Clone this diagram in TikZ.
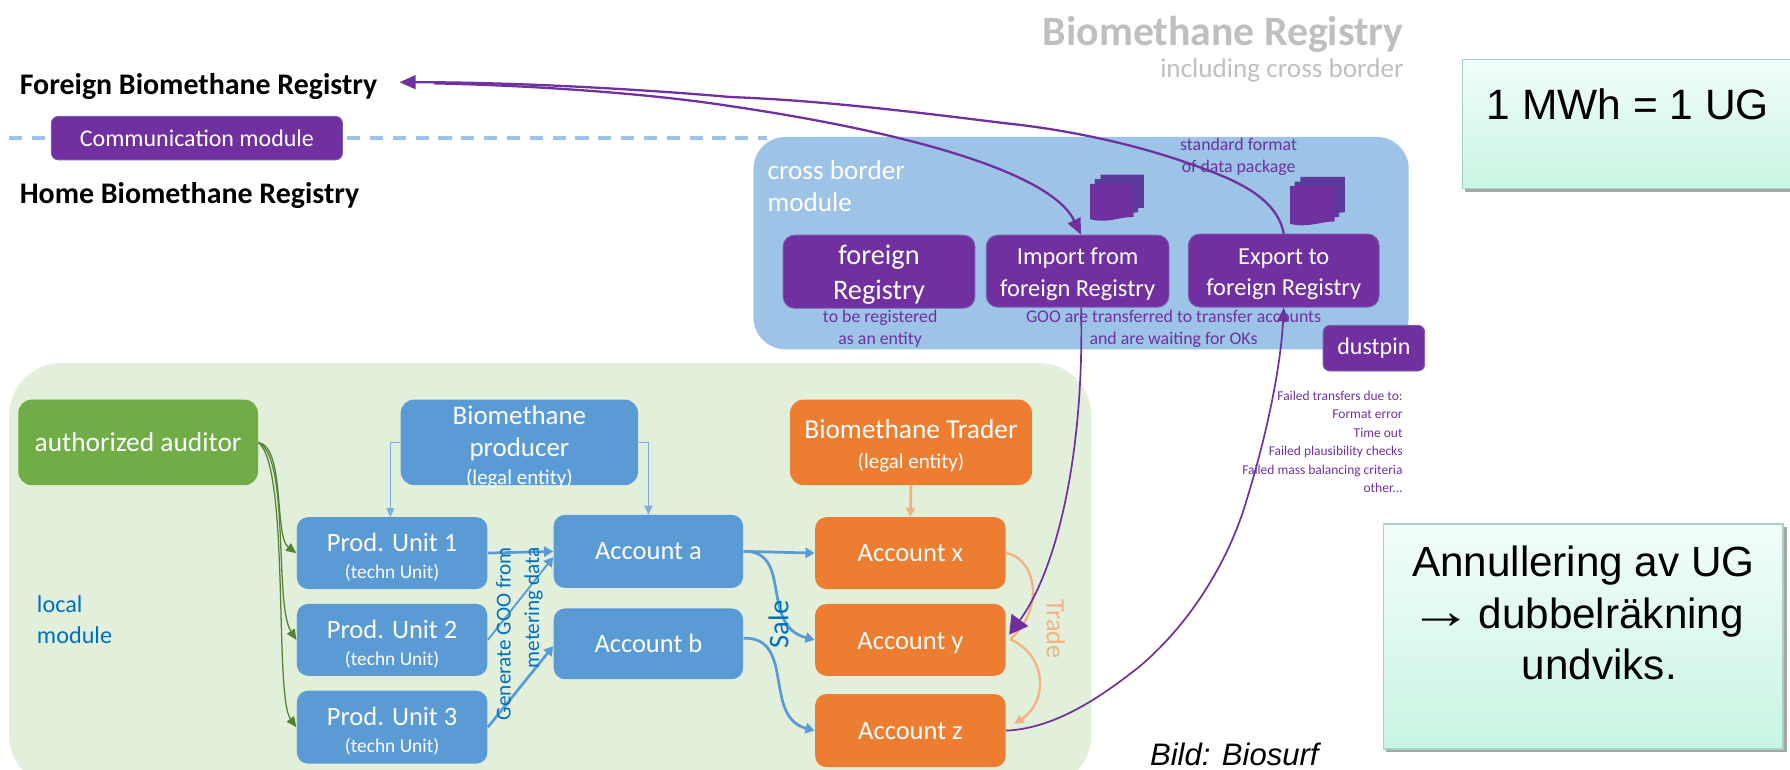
\documentclass[tikz,border=0pt]{standalone}
\usepackage{fontspec}
\setmainfont{Carlito}
\newfontfamily\arialf{Liberation Sans}
\usetikzlibrary{arrows.meta,calc}
\definecolor{purp}{HTML}{7030A0}
\definecolor{docblue}{HTML}{5B3A9B}
\definecolor{bluebox}{HTML}{5B9BD5}
\definecolor{orangebox}{HTML}{ED7D31}
\definecolor{greenbox}{HTML}{70AD47}
\definecolor{lightblue}{HTML}{9DC3E6}
\definecolor{lightgreen}{HTML}{E2EFDA}
\definecolor{softorange}{HTML}{F4B183}
\definecolor{txtblue}{HTML}{0070C0}
\definecolor{darkgreen}{HTML}{548235}
\definecolor{titlegray}{HTML}{BFBFBF}
\definecolor{notetop}{HTML}{F2FDF9}
\definecolor{notebot}{HTML}{C9F5E3}
\definecolor{noteedge}{HTML}{A3D3C2}
\newcommand{\fs}[1]{\fontsize{#1}{#1}\selectfont}
\newcommand{\dwn}[1]{\rule{0pt}{#1pt}}
\newcommand{\bx}[7]{%
  \pgfmathsetmacro\bxcx{(#2+#4)/2}%
  \pgfmathsetmacro\bxcy{(#3+#5)/2}%
  \pgfmathsetmacro\bxw{(#4-#2)*0.5}%
  \pgfmathsetmacro\bxh{(#5-#3)*0.5}%
  \node[#6,minimum width=\bxw pt,minimum height=\bxh pt] (#1) at (\bxcx,\bxcy) {#7};}
\tikzset{
  boxbase/.style={rounded corners=5pt,inner sep=0pt,text=white,align=center,font=\fs{11}},
  purplebox/.style={boxbase,fill=purp,draw=purp!70!lightblue,line width=.4pt},
  bluefill/.style={boxbase,fill=bluebox},
  orangefill/.style={boxbase,fill=orangebox},
  greenfill/.style={boxbase,fill=greenbox},
  smalltxt/.style={text=purp,align=center,font=\fs{7.8},inner sep=0pt},
  notebox/.style={top color=notetop,bottom color=notebot,draw=noteedge,line width=.7pt,align=center,inner sep=0pt},
  purpline/.style={draw=purp,line width=.75pt},
  purptip/.style={-{Triangle[length=7pt,width=6pt]}},
  blueline/.style={draw=bluebox,line width=1.2pt,-{Triangle[length=4pt,width=4.5pt]}},
  thinblue/.style={draw=bluebox!80!white,line width=.6pt,-{Triangle[length=4pt,width=3.5pt]}},
  softline/.style={draw=softorange,line width=1pt},
  greenline/.style={draw=darkgreen,line width=.55pt,-{Triangle[length=4.5pt,width=4pt]}},
  docback/.style={fill=docblue,draw=none},
  docfront/.style={fill=purp,draw=none},
}
\begin{document}
\begin{tikzpicture}[x=0.5pt,y=-0.5pt]
\useasboundingbox (0,0) rectangle (1568,674);
% regions
\fill[lightgreen,rounded corners=23pt] (8,318) rectangle (956,690);
\draw[lightblue,line width=1.7pt,dash pattern=on 5.8pt off 4.2pt] (8,121) -- (45,121);
\draw[lightblue,line width=1.7pt,dash pattern=on 5.8pt off 4.2pt] (304,121) -- (672,121);
\fill[lightblue,rounded corners=14pt] (660,120) rectangle (1234,306);
% titles
\node[anchor=east,text=titlegray,font=\fs{18.3}\bfseries,inner sep=0pt] (title) at (1230,30) {Biomethane Registry};
\node[anchor=east,text=titlegray,font=\fs{11.9},inner sep=0pt] (subtitle) at (1230,62) {including cross border};
\node[anchor=west,font=\fs{13.1}\bfseries,inner sep=0pt] (foreignreg) at (17,76) {Foreign Biomethane Registry};
\node[anchor=west,font=\fs{13.1}\bfseries,inner sep=0pt] (homereg) at (17,171) {Home Biomethane Registry};
\bx{comm}{45}{102}{300}{140}{purplebox,rounded corners=3pt,font=\fs{10.5}}{Communication module}
% cross border module
\node[anchor=north west,text=white,align=left,font=\fs{11.9},inner sep=0pt] (crosslabel) at (672,140) {cross border\\[2.4pt]module};
\bx{foreignbox}{686}{206}{854}{270}{purplebox,font=\fs{12.4}}{\dwn{11}foreign\\[3pt]Registry}
\bx{importbox}{864}{206}{1024}{269}{purplebox,font=\fs{10.7}}{\dwn{10}Import from\\[3pt]foreign Registry}
\bx{exportbox}{1041}{205}{1208}{269}{purplebox,font=\fs{10.7}}{\dwn{10}Export to\\[3pt]foreign Registry}
\bx{dustpin}{1159}{285}{1248}{325}{purplebox,rounded corners=3pt,font=\fs{10.5}}{dustpin}
\node[smalltxt] (fmt) at (1085,137) {standard format\\[1.8pt]of data package};
\node[smalltxt] (entity) at (771,288) {to be registered\\[1.8pt]as an entity};
\node[smalltxt] (goo) at (1028,288) {GOO are transferred to transfer accounts\\[1.8pt]and are waiting for OKs};
\node[anchor=north east,text=purp,align=right,font=\fs{5.9},inner sep=0pt] (failed) at (1229,342) {Failed transfers due to:\\[2.2pt]Format error\\[2.2pt]Time out\\[2.2pt]Failed plausibility checks\\[2.2pt]Failed mass balancing criteria\\[2.2pt]other...};
% document stacks
\foreach \dx/\dy/\st in {9/-8/docback,4/-4/docback,0/0/docfront}{
  \fill[\st] ({955+\dx},{161+\dy}) -- ({993+\dx},{161+\dy}) -- ({993+\dx},{190+\dy}) .. controls ({980+\dx},{190+\dy}) and ({970+\dx},{196+\dy}) .. ({955+\dx},{192+\dy}) -- cycle;
  \fill[\st] ({1130+\dx},{163+\dy}) -- ({1169+\dx},{163+\dy}) -- ({1169+\dx},{194+\dy}) .. controls ({1156+\dx},{194+\dy}) and ({1146+\dx},{200+\dy}) .. ({1130+\dx},{196+\dy}) -- cycle;
}
% local module
\node[anchor=north west,text=txtblue,align=left,font=\fs{10.6},inner sep=0pt] (locallabel) at (32,521) {local\\[3.4pt]module};
\bx{auditor}{16}{350}{226}{425}{greenfill,rounded corners=6pt,font=\fs{12}}{authorized auditor}
\bx{producer}{351}{350}{559}{425}{bluefill,rounded corners=6pt,font=\fs{11.8}}{\dwn{10.4}Biomethane\\[2.2pt]producer\\[.6pt]\raisebox{0pt}[0pt][0pt]{\fs{9.2}(legal entity)}}
\bx{trader}{692}{350}{904}{425}{orangefill,rounded corners=6pt,font=\fs{12}}{\dwn{11}Biomethane Trader\\[1.2pt]{\fs{9.2}(legal entity)}}
\bx{unita}{260}{453}{427}{516}{bluefill,font=\fs{11.6}}{\dwn{11.5}Prod. Unit 1\\[.3pt]{\fs{8.5}(techn Unit)}}
\bx{unitb}{260}{529}{427}{592}{bluefill,font=\fs{11.6}}{\dwn{11.5}Prod. Unit 2\\[.3pt]{\fs{8.5}(techn Unit)}}
\bx{unitc}{260}{605}{427}{669}{bluefill,font=\fs{11.6}}{\dwn{11.5}Prod. Unit 3\\[.3pt]{\fs{8.5}(techn Unit)}}
\bx{accA}{485}{451}{651}{515}{bluefill,font=\fs{11.6}}{Account a}
\bx{accB}{485}{533}{651}{595}{bluefill,font=\fs{11.6}}{Account b}
\bx{accX}{714}{453}{881}{516}{orangefill,font=\fs{11.6}}{Account x}
\bx{accY}{714}{529}{881}{592}{orangefill,font=\fs{11.6}}{\dwn{10}Account y}
\bx{accZ}{714}{608}{881}{672}{orangefill,font=\fs{11.6}}{Account z}
% green connectors
\draw[greenline] (auditor.east) .. controls (250,392) and (240,470) .. (unita.west);
\draw[greenline] (auditor.east) .. controls (254,400) and (240,530) .. (unitb.west);
\draw[greenline] (auditor.east) .. controls (254,410) and (240,610) .. (unitc.west);
% producer, trader
\draw[thinblue] (producer.west) -- (342,387.5) -- (342,453);
\draw[thinblue] (producer.east) -- (568,387.5) -- (568,451);
\draw[softline,line width=1.2pt,-{Triangle[length=4pt,width=4pt]}] (trader.south) -- (accX.north);
% units to accounts
\draw[blueline] (unita.east) -- (accA.west);
\draw[blueline,line width=.8pt] (unitb.east) -- ($(accA.west)+(0,5)$);
\draw[blueline] (unitc.east) -- ($(accB.west)+(0,2)$);
\node[rotate=90,text=txtblue,align=right,font=\fs{9.3},inner sep=0pt] (gentxt) at (455,555) {Generate GOO from\\[3.2pt]metering data};
% sales
\draw[blueline] (accA.east) -- (accX.west);
\draw[blueline] (accA.east) .. controls (695,482) and (665,548) .. (accY.west);
\draw[blueline] ($(accB.east)+(0,-5)$) .. controls (697,558) and (668,628) .. (accZ.west);
\node[rotate=90,text=txtblue,font=\fs{12.5},inner sep=0pt] (saletxt) at (682,547) {Sale};
% trade
\draw[softline] (accX.east) .. controls (905,488) and (918,530) .. (885,560);
\draw[softline,-{Triangle[length=4pt,width=4pt]}] (885,560) .. controls (918,575) and (918,615) .. ($(accZ.east)+(7,-6)$);
\node[rotate=-90,text=softorange,font=\fs{11.5},inner sep=0pt] (tradetxt) at (925,551) {Trade};
% purple
\draw[purpline,line width=1pt,purptip] (exportbox.north) .. controls (1118,170) and (1075,155) .. (1041,143) .. controls (990,125) and (930,113) .. (881,108) .. controls (800,98) and (720,88) .. (640,85) .. controls (560,78) and (450,72) .. (350,72);
\draw[purpline,line width=1pt,purptip] (380,73) .. controls (470,75) and (570,82) .. (640,93) .. controls (790,115) and (920,150) .. ($(importbox.north)+(3,0)$);
\draw[purpline,-{Triangle[length=8pt,width=9pt]}] ($(importbox.south)+(3,0)$) .. controls (950,400) and (925,500) .. (884,556);
\draw[purpline,-{Triangle[length=6pt,width=5pt]}] (accZ.east) .. controls (925,638) and (965,610) .. (998,584) .. controls (1050,540) and (1080,480) .. (1092,438) .. controls (1110,380) and (1122,320) .. (exportbox.south);
% notes
\fill[black!35] (1283,55) rectangle (1570,168);
\bx{noteone}{1281}{52}{1570}{165}{notebox}{}
\node[text=black,font=\arialf\fs{18.6},inner sep=0pt] (noteonetxt) at (1426,91) {1 MWh = 1 UG};
\fill[black!35] (1214,462) rectangle (1565,659);
\bx{notetwo}{1212}{459}{1562}{656}{notebox}{}
\node[text=black,font=\arialf\fs{18.5},align=center,inner sep=0pt,anchor=north] (notetwotxt) at (1387,478) {Annullering av UG\\[4pt]\scalebox{1.5}[1.2]{→}\kern-2.5pt\ dubbelräkning\kern6pt\\[4pt]\hspace*{14pt}undviks.};
\node[anchor=west,font=\arialf\itshape\fs{13.6},inner sep=0pt] (credit) at (1007,661) {Bild: Biosurf};
\end{tikzpicture}
\end{document}
